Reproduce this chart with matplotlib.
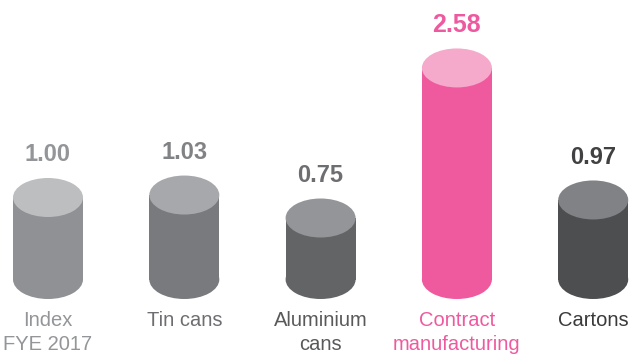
import matplotlib
matplotlib.use("Agg")
import matplotlib.pyplot as plt
from matplotlib.patches import Rectangle, Ellipse

categories = ["Index\nFYE 2017", "Tin cans", "Aluminium\ncans", "Contract\nmanufacturing", "Cartons"]
values = [1.00, 1.03, 0.75, 2.58, 0.97]
value_labels = ["1.00", "1.03", "0.75", "2.58", "0.97"]

side_colors = ["#8f9194", "#797a7d", "#636466", "#ef5a9f", "#4d4e50"]
top_colors = ["#bcbec0", "#a6a8ab", "#939598", "#f5aacb", "#808285"]
value_colors = ["#939598", "#808285", "#6d6e71", "#ee5a9f", "#414042"]
label_colors = ["#939598", "#6d6e71", "#58595b", "#ee5a9f", "#3a3a3c"]
value_sizes = [17, 17, 17, 18, 17]

W, H, DPI = 633, 356, 100
fig = plt.figure(figsize=(W / DPI, H / DPI), dpi=DPI)
ax = fig.add_axes([0, 0, 1, 1])

# layout in pixels
x0_px, pitch_px = 48.0, 136.3
base_px = 356 - 279.5
scale_px = 82.0
ax.set_xlim(-x0_px / pitch_px, (W - x0_px) / pitch_px)
ax.set_ylim(-base_px / scale_px, (H - base_px) / scale_px)
ax.axis("off")

hw = 35.0 / pitch_px      # half width in data units
hh = 19.5 / scale_px      # ellipse half height in data units

for i, (v, sc, tc) in enumerate(zip(values, side_colors, top_colors)):
    ax.add_patch(Ellipse((i, 0), 2 * hw, 2 * hh, facecolor=sc, edgecolor="none", zorder=1))
    ax.add_patch(Rectangle((i - hw, 0), 2 * hw, v, facecolor=sc, edgecolor="none", zorder=2))
    ax.add_patch(Ellipse((i, v), 2 * hw, 2 * hh, facecolor=tc, edgecolor="none", zorder=3))
    ax.annotate(value_labels[i], (i, v + hh), xytext=(0, 12), textcoords="offset points",
                ha="center", va="baseline", fontsize=value_sizes[i], fontweight="bold",
                color=value_colors[i], family="Liberation Sans")
    ax.annotate(categories[i], (i, -hh), xytext=(0, -9), textcoords="offset points",
                ha="center", va="top", fontsize=14.5, color=label_colors[i],
                family="Liberation Sans", linespacing=1.3)

fig.savefig("out.png", dpi=DPI)
